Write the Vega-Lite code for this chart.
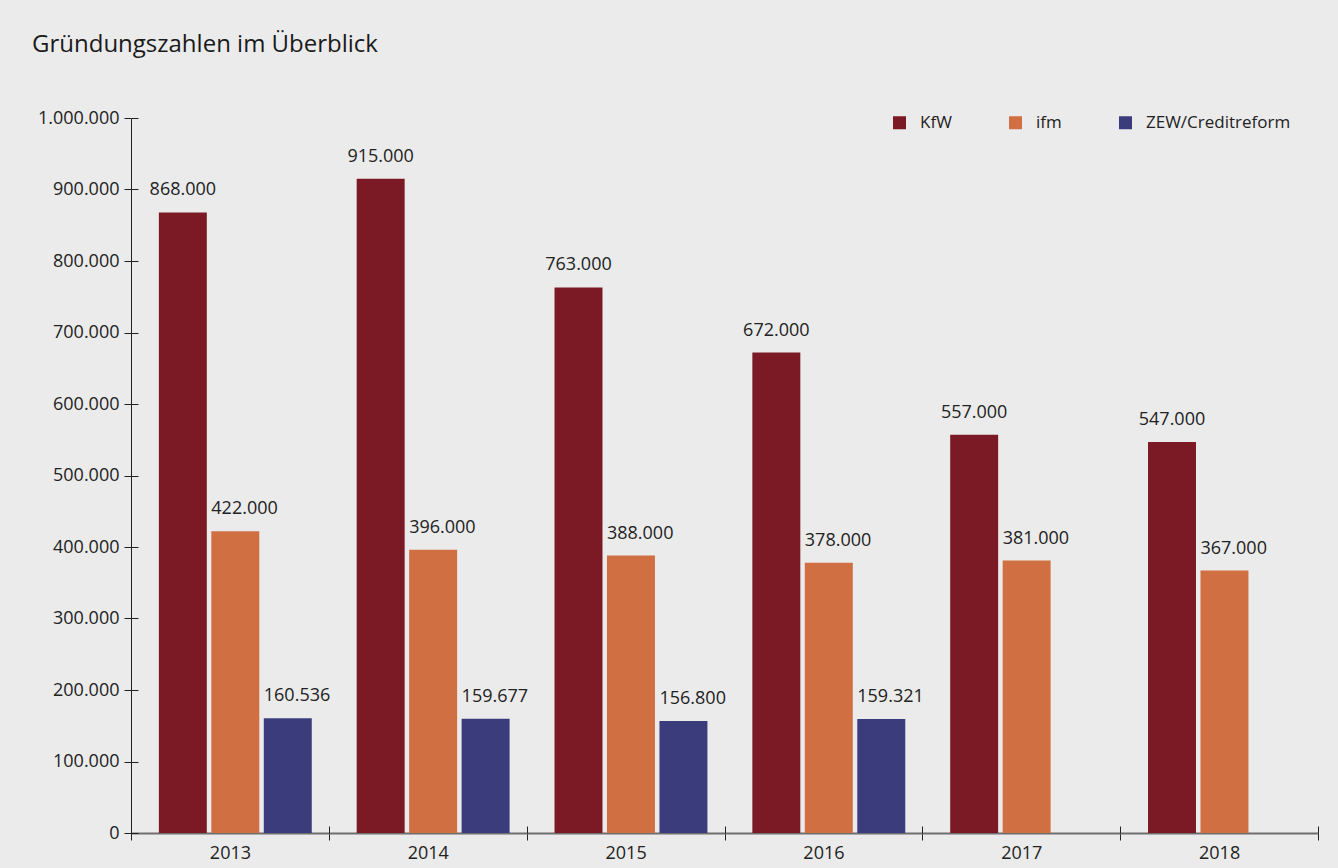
{
  "$schema": "https://vega.github.io/schema/vega-lite/v6.json",
  "autosize": {"type": "none"},
  "width": 1187,
  "height": 715,
  "padding": {"left": 131, "top": 118, "right": 20, "bottom": 35},
  "background": "#ebebeb",
  "title": {
    "text": "Gründungszahlen im Überblick",
    "anchor": "start",
    "frame": "group",
    "dx": -99,
    "offset": 52,
    "fontSize": 24,
    "fontWeight": "normal",
    "font": "Open Sans",
    "color": "#1a1a1a"
  },
  "config": {
    "font": "Open Sans",
    "view": {"stroke": null},
    "locale": {"number": {"decimal": ",", "thousands": ".", "grouping": [3], "currency": ["", " €"]}}
  },
  "data": {
    "values": [
      {"year": "2013", "source": "KfW", "value": 868000},
      {"year": "2013", "source": "ifm", "value": 422000},
      {"year": "2013", "source": "ZEW/Creditreform", "value": 160536},
      {"year": "2014", "source": "KfW", "value": 915000},
      {"year": "2014", "source": "ifm", "value": 396000},
      {"year": "2014", "source": "ZEW/Creditreform", "value": 159677},
      {"year": "2015", "source": "KfW", "value": 763000},
      {"year": "2015", "source": "ifm", "value": 388000},
      {"year": "2015", "source": "ZEW/Creditreform", "value": 156800},
      {"year": "2016", "source": "KfW", "value": 672000},
      {"year": "2016", "source": "ifm", "value": 378000},
      {"year": "2016", "source": "ZEW/Creditreform", "value": 159321},
      {"year": "2017", "source": "KfW", "value": 557000},
      {"year": "2017", "source": "ifm", "value": 381000},
      {"year": "2018", "source": "KfW", "value": 547000},
      {"year": "2018", "source": "ifm", "value": 367000}
    ]
  },
  "encoding": {
    "x": {"field": "year", "type": "nominal", "scale": {"paddingInner": 0, "paddingOuter": 0}},
    "xOffset": {"field": "source", "type": "nominal", "scale": {"domain": ["KfW", "ifm", "ZEW/Creditreform"], "paddingInner": 0.0857, "paddingOuter": 0.428, "align": 0.62}},
    "y": {"field": "value", "type": "quantitative", "scale": {"domain": [0, 1000000], "nice": false}}
  },
  "layer": [
    {
      "mark": {"type": "bar"},
      "encoding": {
        "x": {"field": "year", "type": "nominal", "scale": {"paddingInner": 0, "paddingOuter": 0},
          "axis": {"title": null, "orient": "bottom", "labelAngle": 0, "tickBand": "extent", "tickSize": 7, "tickColor": "#222222", "domainColor": "#6e6e6e", "domainWidth": 2, "labelFontSize": 18, "labelColor": "#222222", "labelPadding": 4, "grid": false}},
        "y": {"field": "value", "type": "quantitative", "scale": {"domain": [0, 1000000], "nice": false},
          "axis": {"title": null, "orient": "left", "values": [0, 100000, 200000, 300000, 400000, 500000, 600000, 700000, 800000, 900000, 1000000], "format": ",.0f", "tickSize": 7, "tickColor": "#222222", "domainColor": "#222222", "labelFontSize": 18, "labelColor": "#222222", "labelPadding": 5, "grid": false}},
        "color": {"field": "source", "type": "nominal",
          "scale": {"domain": ["KfW", "ifm", "ZEW/Creditreform"], "range": ["#7b1a25", "#d06f42", "#3a3c7b"]},
          "legend": {"title": null, "orient": "none", "legendX": 760, "legendY": -4, "direction": "horizontal", "columnPadding": 55, "symbolType": "square", "symbolSize": 169, "symbolStrokeWidth": 0, "labelFontSize": 17, "labelColor": "#222222", "labelOffset": 12, "padding": 0}}
      }
    },
    {
      "transform": [{"filter": "datum.source === 'KfW'"}],
      "mark": {"type": "text", "baseline": "alphabetic", "align": "center", "dy": -17, "fontSize": 18, "color": "#222222"},
      "encoding": {
        "x": {"field": "year", "type": "nominal", "scale": {"paddingInner": 0, "paddingOuter": 0},
          "axis": {"title": null, "orient": "bottom", "tickBand": "extent", "tickSize": -7, "tickColor": "#222222", "labels": false, "domain": false, "grid": false}},
        "y": {"field": "value", "type": "quantitative", "scale": {"domain": [0, 1000000], "nice": false},
          "axis": {"title": null, "orient": "left", "values": [0, 100000, 200000, 300000, 400000, 500000, 600000, 700000, 800000, 900000, 1000000], "tickSize": -7, "tickColor": "#222222", "labels": false, "domain": false, "grid": false}},
        "text": {"field": "value", "type": "quantitative", "format": ",.0f"}
      }
    },
    {
      "transform": [{"filter": "datum.source !== 'KfW'"}],
      "mark": {"type": "text", "baseline": "alphabetic", "align": "left", "dx": -24, "dy": -17, "fontSize": 18, "color": "#222222"},
      "encoding": {
        "x": {"field": "year", "type": "nominal", "scale": {"paddingInner": 0, "paddingOuter": 0}, "axis": null},
        "y": {"field": "value", "type": "quantitative", "scale": {"domain": [0, 1000000], "nice": false}, "axis": null},
        "text": {"field": "value", "type": "quantitative", "format": ",.0f"}
      }
    }
  ],
  "resolve": {"axis": {"x": "independent", "y": "independent"}}
}
